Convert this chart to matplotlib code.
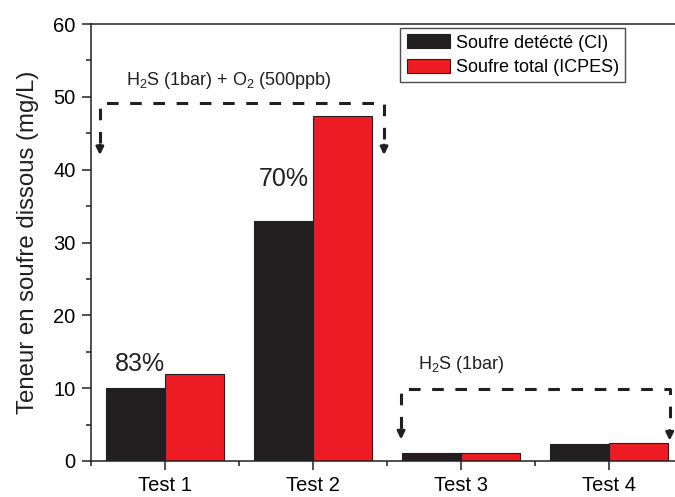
import matplotlib
matplotlib.use("Agg")
import matplotlib.pyplot as plt
from matplotlib.patches import Patch
from matplotlib.ticker import MultipleLocator
import numpy as np

plt.rcParams['font.family'] = ['Liberation Sans', 'DejaVu Sans']
plt.rcParams['mathtext.fontset'] = 'custom'
plt.rcParams['mathtext.rm'] = 'Liberation Sans'
plt.rcParams['mathtext.default'] = 'regular'

categories = ["Test 1", "Test 2", "Test 3", "Test 4"]
detected = [10.0, 33.0, 1.1, 2.3]
total = [11.9, 47.35, 1.15, 2.5]
series_labels = ["Soufre detécté (CI)", "Soufre total (ICPES)"]
pct_labels = ["83%", "70%"]
ylabel = "Teneur en soufre dissous (mg/L)"
note1 = r"H$_2$S (1bar) + O$_2$ (500ppb)"
note2 = r"H$_2$S (1bar)"

c_black = "#231f20"
c_red = "#ed1c24"

fig = plt.figure(figsize=(6.75, 4.97), dpi=100)
ax = fig.add_axes([91/675, 1-461/497, 592/675, (461-24)/497])

x = np.arange(1, len(categories)+1)
w = 0.4
ax.bar(x - w/2, detected, width=w, color=c_black, edgecolor=c_black, linewidth=0.8)
ax.bar(x + w/2, total, width=w, color=c_red, edgecolor=c_black, linewidth=0.8)

ax.set_xlim(0.5, 4.5)
ax.set_ylim(0, 60)
ax.set_xticks(x)
ax.set_xticklabels(categories)
ax.xaxis.set_minor_locator(MultipleLocator(1.0, offset=0.5))
ax.yaxis.set_major_locator(MultipleLocator(10))
ax.yaxis.set_minor_locator(MultipleLocator(5))
ax.tick_params(which='major', direction='out', length=6.5, width=1.1, labelsize=14.5, pad=4.5, color='#231f20')
ax.tick_params(which='minor', direction='out', length=3.5, width=1.1, color='#231f20')
for s in ax.spines.values():
    s.set_linewidth(1.1)
    s.set_color('#231f20')
ax.set_ylabel(ylabel, fontsize=17.3, labelpad=10, color='#231f20')

# percentage labels
ax.text(1.0, 13.3, pct_labels[0], fontsize=18, ha='right', va='center', color='#231f20')
ax.text(1.97, 38.7, pct_labels[1], fontsize=18, ha='right', va='center', color='#231f20')

# dashed brackets with arrows
def bracket(x0, x1, top, tip0, tip1):
    gap = 1.6
    ax.plot([x0, x0, x1, x1], [tip0 + gap, top, top, tip1 + gap], color=c_black,
            lw=2.2, dashes=(3.8, 3.8), solid_capstyle='butt', dash_capstyle='butt',
            clip_on=False)
    for xx, tt in ((x0, tip0), (x1, tip1)):
        ax.annotate('', xy=(xx, tt), xytext=(xx, tt + 1.4),
                    arrowprops=dict(arrowstyle='-|>,head_width=0.22,head_length=0.45',
                                    color=c_black, lw=2.0, shrinkA=0, shrinkB=0),
                    annotation_clip=False)

bracket(0.56, 2.48, 49.2, 42.0, 42.0)
bracket(2.595, 4.41, 9.9, 2.95, 2.8)

ax.text(1.43, 52.3, note1, fontsize=13, ha='center', va='center', color='#231f20')
ax.text(3.0, 13.2, note2, fontsize=13, ha='center', va='center', color='#231f20')

handles = [Patch(facecolor=c_black, edgecolor=c_black, linewidth=0.8),
           Patch(facecolor=c_red, edgecolor=c_black, linewidth=0.8)]
leg = ax.legend(handles, series_labels, loc='upper right',
                bbox_to_anchor=(625/675, 1-28/497), bbox_transform=fig.transFigure,
                borderaxespad=0, fontsize=13, frameon=True, fancybox=False,
                handlelength=2.4, handleheight=0.8, handletextpad=0.3,
                labelspacing=0.4, borderpad=0.35)
leg.get_frame().set_edgecolor(c_black)
leg.get_frame().set_linewidth(1.0)

fig.savefig("out.png", dpi=100)
